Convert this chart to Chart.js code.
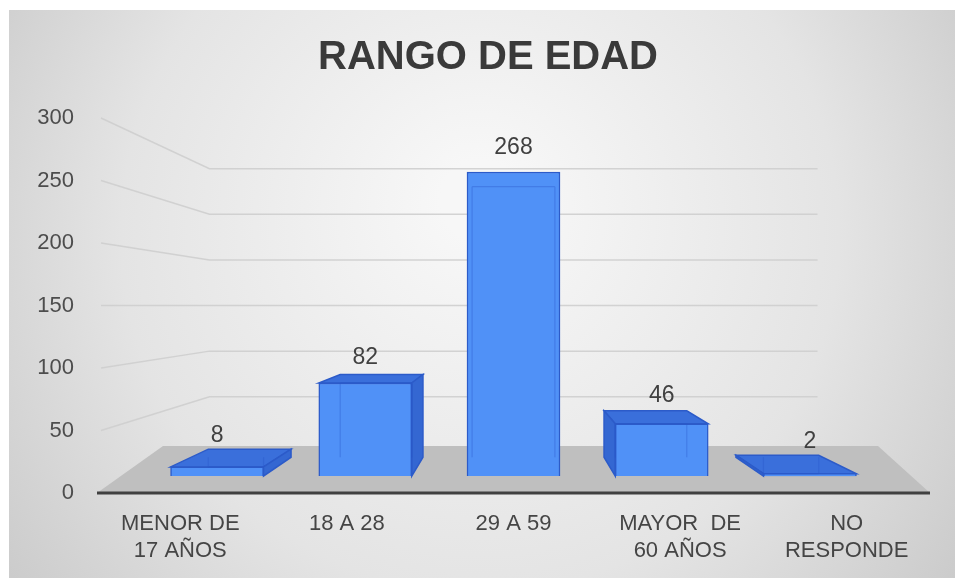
<!DOCTYPE html>
<html>
<head>
<meta charset="utf-8">
<script src="https://cdn.jsdelivr.net/npm/chart.js@4.4.1/dist/chart.umd.min.js"></script>
<style>
  html, body { margin: 0; padding: 0; background: #fff; }
  #wrap { width: 955px; height: 578px; position: relative; }
</style>
</head>
<body>
<div id="wrap"><canvas id="myChart" width="955" height="578"></canvas></div>
<script>
var chartTitle = "RANGO DE EDAD";
var categories = [["MENOR DE", "17 AÑOS"], "18 A 28", "29 A 59", ["MAYOR  DE", "60 AÑOS"], ["NO", "RESPONDE"]];
var values = [8, 82, 268, 46, 2];
var yTicks = [0, 50, 100, 150, 200, 250, 300];

// bars live on hidden axes (the projected front plane of the 3d box)
var barPoints = values.map(function (v, i) { return { x: i, y: v }; });

function vanish(chart) {
  var a = chart.chartArea;
  return { x: (a.left + a.right) / 2, y: (a.top + a.bottom) / 2 };
}
function toBack(px, py, vp, k) {
  return { x: px + (vp.x - px) * k, y: py + (vp.y - py) * k };
}

var backdrop = {
  id: 'backdrop',
  beforeDraw(chart) {
    var ctx = chart.ctx;
    ctx.save();
    ctx.fillStyle = '#ffffff';
    ctx.fillRect(0, 0, chart.width, chart.height);
    var g = ctx.createRadialGradient(480, 200, 40, 480, 260, 620);
    g.addColorStop(0, '#f7f7f7');
    g.addColorStop(0.55, '#e4e4e4');
    g.addColorStop(1, '#c6c6c6');
    ctx.fillStyle = g;
    ctx.fillRect(9, 10, chart.width - 9, chart.height - 10);

    ctx.font = 'bold 40px "Liberation Sans", Arial, sans-serif';
    ctx.fillStyle = '#3a3a3a';
    ctx.textAlign = 'center';
    ctx.textBaseline = 'middle';
    ctx.fillText(chartTitle, 488, 58);
    ctx.restore();
  },
  beforeDatasetsDraw(chart) {
    var ctx = chart.ctx;
    var a = chart.chartArea;
    var y = chart.scales.y;
    var y0 = y.getPixelForValue(0);
    var vp = vanish(chart);
    ctx.save();
    // back wall grid, running into the picture
    ctx.strokeStyle = 'rgba(206,206,206,0.9)';
    ctx.lineWidth = 1.5;
    yTicks.forEach(function (v) {
      if (v === 0) return;
      var yf = y.getPixelForValue(v);
      var bl = toBack(a.left, yf, vp, 0.27);
      var br = toBack(a.right, yf, vp, 0.27);
      ctx.beginPath();
      ctx.moveTo(a.left + 4, yf);
      ctx.lineTo(bl.x, bl.y);
      ctx.lineTo(br.x, bl.y);
      ctx.stroke();
    });
    // floor
    ctx.fillStyle = '#bfbfbf';
    ctx.beginPath();
    ctx.moveTo(a.left, y0);
    ctx.lineTo(a.right, y0);
    ctx.lineTo(a.right - 52, y0 - 47);
    ctx.lineTo(a.left + 66, y0 - 47);
    ctx.closePath();
    ctx.fill();

    // top and side faces
    var meta = chart.getDatasetMeta(0);
    meta.data.forEach(function (bar) {
      var p = bar.getProps(['x', 'y', 'base', 'width']);
      var l = p.x - p.width / 2, r = p.x + p.width / 2;
      var k = 0.11;
      var tl = toBack(l, p.y, vp, k), tr = toBack(r, p.y, vp, k);
      var bl = toBack(l, p.base, vp, k), br = toBack(r, p.base, vp, k);
      ctx.strokeStyle = '#2c5bc9';
      ctx.lineWidth = 1.5;
      if (p.y > vp.y) {
        ctx.fillStyle = '#3a6fdb';
        ctx.beginPath();
        ctx.moveTo(l, p.y);
        ctx.lineTo(r, p.y);
        ctx.lineTo(tr.x, tr.y);
        ctx.lineTo(tl.x, tl.y);
        ctx.closePath();
        ctx.fill();
        ctx.stroke();
      }
      ctx.fillStyle = '#3467d2';
      if (vp.x > r) {
        ctx.beginPath();
        ctx.moveTo(r, p.y);
        ctx.lineTo(tr.x, tr.y);
        ctx.lineTo(br.x, br.y);
        ctx.lineTo(r, p.base);
        ctx.closePath();
        ctx.fill();
        ctx.stroke();
      } else if (vp.x < l) {
        ctx.beginPath();
        ctx.moveTo(l, p.y);
        ctx.lineTo(tl.x, tl.y);
        ctx.lineTo(bl.x, bl.y);
        ctx.lineTo(l, p.base);
        ctx.closePath();
        ctx.fill();
        ctx.stroke();
      }
    });
    ctx.restore();
  },
  afterDatasetsDraw(chart) {
    var ctx = chart.ctx;
    var a = chart.chartArea;
    var y0 = chart.scales.y.getPixelForValue(0);
    var vp = vanish(chart);
    ctx.save();
    // hidden back edges showing through the front face
    ctx.strokeStyle = 'rgba(40,85,200,0.35)';
    ctx.lineWidth = 1.2;
    chart.getDatasetMeta(0).data.forEach(function (bar) {
      var p = bar.getProps(['x', 'y', 'base', 'width']);
      var l = p.x - p.width / 2, r = p.x + p.width / 2;
      var tl = toBack(l, p.y, vp, 0.11), tr = toBack(r, p.y, vp, 0.11);
      var bl = toBack(l, p.base, vp, 0.11), br = toBack(r, p.base, vp, 0.11);
      ctx.beginPath();
      ctx.moveTo(Math.max(tl.x, l), Math.max(tl.y, p.y));
      ctx.lineTo(Math.min(tr.x, r), Math.max(tr.y, p.y));
      ctx.moveTo(Math.max(bl.x, l), Math.max(tl.y, p.y));
      ctx.lineTo(Math.max(bl.x, l), Math.min(bl.y, p.base));
      ctx.moveTo(Math.min(br.x, r), Math.max(tr.y, p.y));
      ctx.lineTo(Math.min(br.x, r), Math.min(br.y, p.base));
      ctx.stroke();
    });
    // axis line
    ctx.strokeStyle = '#404040';
    ctx.lineWidth = 3;
    ctx.beginPath();
    ctx.moveTo(a.left, y0);
    ctx.lineTo(a.right, y0);
    ctx.stroke();
    // value labels
    ctx.font = '23px "Liberation Sans", Arial, sans-serif';
    ctx.fillStyle = '#404040';
    ctx.textAlign = 'center';
    ctx.textBaseline = 'bottom';
    chart.getDatasetMeta(0).data.forEach(function (bar, i) {
      var l = bar.x - bar.width / 2;
      var top = Math.min(bar.y, toBack(l, bar.y, vp, 0.11).y);
      ctx.fillText(values[i], bar.x, top - 1 - 0.04 * (bar.base - top));
    });
    ctx.restore();
  }
};

new Chart("myChart", {
  type: "bar",
  data: {
    labels: categories,
    datasets: [{
      data: barPoints,
      xAxisID: 'xb',
      yAxisID: 'yb',
      backgroundColor: "#5091f7",
      borderColor: "#2c5bc9",
      borderWidth: 1.5,
      barThickness: 93
    }]
  },
  options: {
    responsive: false,
    animation: false,
    layout: { padding: { top: 118, right: 25, left: 0, bottom: 0 } },
    plugins: {
      legend: { display: false },
      tooltip: { enabled: false },
      title: { display: false }
    },
    scales: {
      x: {
        type: 'category',
        grid: { display: false },
        border: { display: false },
        ticks: {
          color: '#454545',
          font: { family: '"Liberation Sans", Arial, sans-serif', size: 22, lineHeight: 1.25 },
          padding: 9,
          maxRotation: 0,
          autoSkip: false
        },
        afterFit(scale) { scale.height = 85; }
      },
      y: {
        type: 'linear',
        position: 'left',
        min: 0,
        max: 300,
        afterBuildTicks(scale) { scale.ticks = yTicks.map(function (v) { return { value: v }; }); },
        grid: { display: false },
        border: { display: false },
        ticks: {
          color: '#4d4d4d',
          font: { family: '"Liberation Sans", Arial, sans-serif', size: 22 },
          padding: 15
        },
        afterFit(scale) { scale.width = 97; }
      },
      xb: { type: 'linear', display: false, offset: false, min: -0.81, max: 4.81 },
      yb: { type: 'linear', display: false, min: -15, max: 315.6 }
    }
  },
  plugins: [backdrop]
});
</script>
</body>
</html>
